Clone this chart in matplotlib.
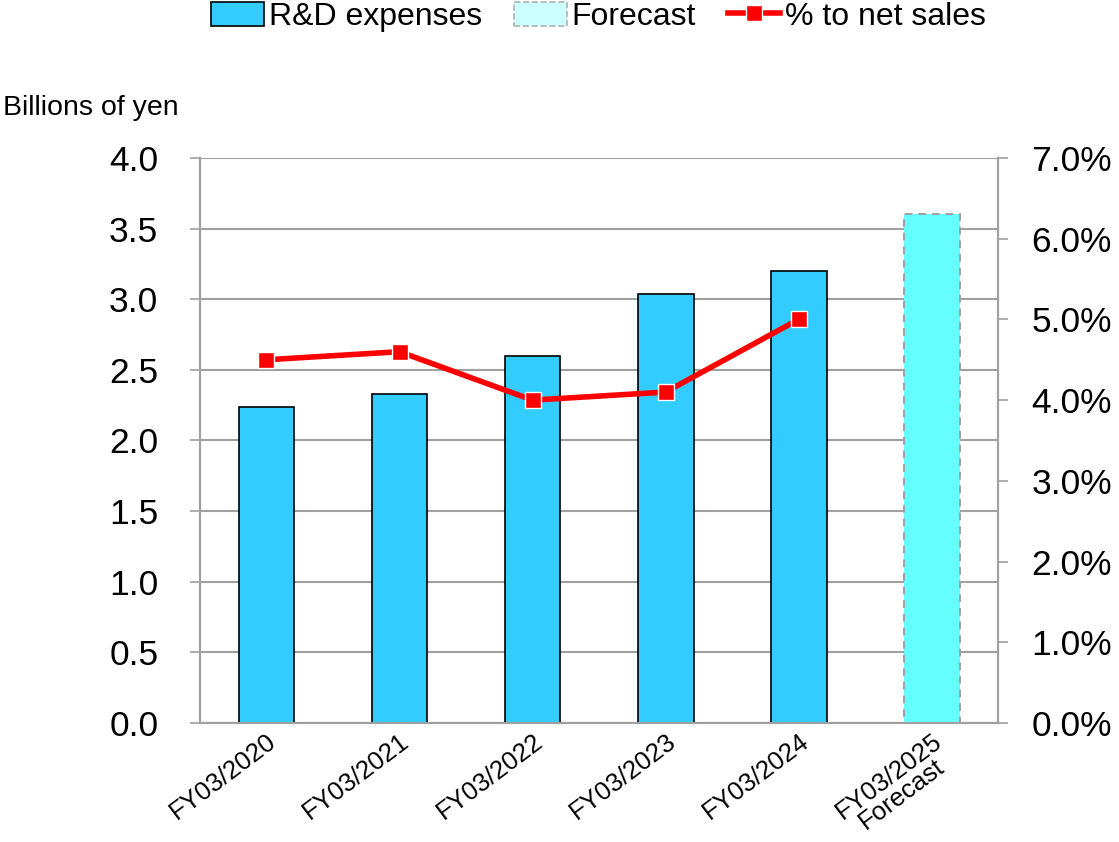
import numpy as np
import matplotlib
matplotlib.use("Agg")
import matplotlib.pyplot as plt
from matplotlib.patches import Patch
from matplotlib.lines import Line2D

plt.rcParams['font.family'] = ['Liberation Sans', 'DejaVu Sans']

labels = ['FY03/2020', 'FY03/2021', 'FY03/2022', 'FY03/2023', 'FY03/2024', 'FY03/2025\nForecast']
rd_expenses = [2.24, 2.33, 2.60, 3.04, 3.20]
forecast = 3.60
pct_sales = [4.5, 4.6, 4.0, 4.1, 5.0]

fig = plt.figure(figsize=(11.19, 8.42), dpi=100)
ax = fig.add_axes([0.1787, 0.1413, 0.7133, 0.6711])
ax2 = ax.twinx()

x = np.arange(len(labels))
ax.bar(x[:5], rd_expenses, width=0.42, color='#33CCFF', edgecolor='black', linewidth=1.2, zorder=3)
ax.bar(x[5], forecast, width=0.42, color='#66FFFF', edgecolor='#A0A0A0', linewidth=1.4,
       linestyle=(0, (4, 3)), zorder=3)

ax2.plot(x[:5], pct_sales, color='#FF0000', linewidth=4, marker='s', markersize=12,
         markerfacecolor='#FF0000', markeredgecolor='white', markeredgewidth=1.0, zorder=4)

ax.set_xlim(-0.5, 5.5)
ax.set_ylim(0, 4.0)
ax.set_yticks(np.arange(0, 4.01, 0.5))
ax.set_yticklabels([f'{v:.1f}' for v in np.arange(0, 4.01, 0.5)], fontsize=25.5)
ax2.set_ylim(0, 7.0)
ax2.set_yticks(np.arange(0, 7.01, 1.0))
ax2.set_yticklabels([f'{v:.1f}%' for v in np.arange(0, 7.01, 1.0)], fontsize=25.5)

ax.set_xticks(x)
ax.set_xticklabels(labels, fontsize=18.5, rotation=37, ha='right', rotation_mode='anchor',
                   multialignment='center', linespacing=0.92)
ax.tick_params(axis='x', length=0, pad=4)
ax.tick_params(axis='y', length=7, color='#A0A0A0', width=1.2, pad=23)
ax2.tick_params(axis='y', length=7, color='#A0A0A0', width=1.2, pad=17)

ax.grid(axis='y', color='#A0A0A0', linewidth=1.5, zorder=0)
ax.set_axisbelow(True)
for a in (ax, ax2):
    for s in a.spines.values():
        s.set_color('#A0A0A0')
        s.set_linewidth(1.5)
    a.spines['top'].set_visible(False)

fig.text(0.003, 0.872, 'Billions of yen', fontsize=20.5, ha='left', va='center')

handles = [
    Patch(facecolor='#33CCFF', edgecolor='black', linewidth=1.2, label='R&D expenses'),
    Patch(facecolor='#CCFFFF', edgecolor='#B0B0B0', linewidth=1.2, linestyle='--', label='Forecast'),
    Line2D([0], [0], color='#FF0000', linewidth=4, marker='s', markersize=11,
           markeredgecolor='white', label='% to net sales'),
]
fig.legend(handles=handles, loc='center', bbox_to_anchor=(0.535, 0.98), ncol=3, frameon=False,
           fontsize=23, handlelength=1.65, handleheight=0.8, handletextpad=0.15, columnspacing=1.0)

fig.savefig('out.png', dpi=100)
